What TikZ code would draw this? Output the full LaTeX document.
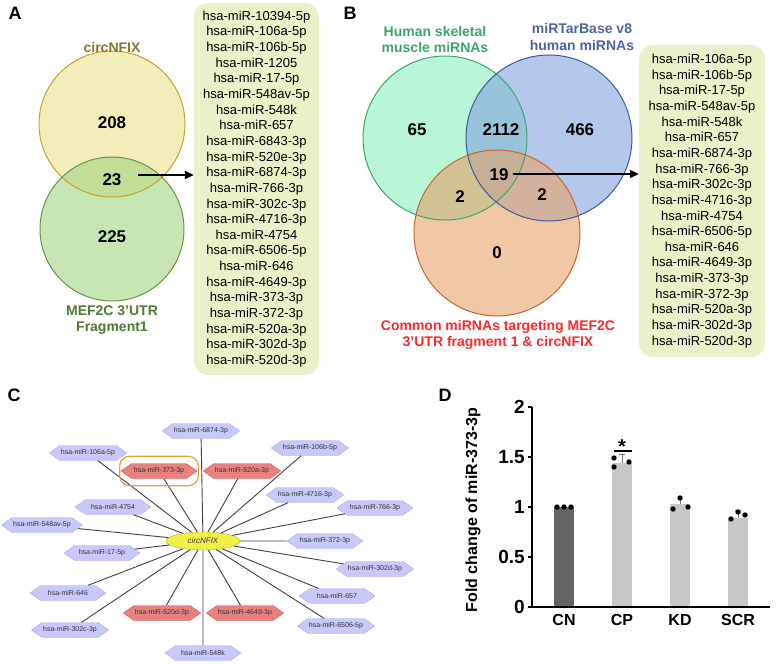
\documentclass[tikz,border=0pt]{standalone}
\usepackage{fontspec}
\setmainfont{Liberation Sans}
\usetikzlibrary{arrows.meta,shapes.symbols,shapes.geometric,fit}

\definecolor{nfixFill}{RGB}{235,227,138}
\definecolor{nfixLine}{RGB}{200,160,50}
\definecolor{nfixText}{RGB}{140,115,40}
\definecolor{mefFill}{RGB}{163,213,130}
\definecolor{mefLine}{RGB}{100,150,70}
\definecolor{mefText}{RGB}{80,120,50}
\definecolor{musFill}{RGB}{138,238,188}
\definecolor{musLine}{RGB}{60,165,110}
\definecolor{tarFill}{RGB}{130,163,222}
\definecolor{tarLine}{RGB}{60,90,160}
\definecolor{tarText}{RGB}{75,100,165}
\definecolor{comFill}{RGB}{230,163,105}
\definecolor{comLine}{RGB}{200,100,45}
\definecolor{comText}{RGB}{255,40,40}
\definecolor{listBg}{RGB}{235,240,200}
\definecolor{hexBlue}{RGB}{200,200,250}
\definecolor{hexBlueLine}{RGB}{170,170,240}
\definecolor{hexRed}{RGB}{232,128,128}
\definecolor{hexRedLine}{RGB}{210,90,90}
\definecolor{hubFill}{RGB}{240,240,70}
\definecolor{hubLine}{RGB}{170,170,60}
\definecolor{hiOrange}{RGB}{232,160,48}
\definecolor{barDark}{RGB}{100,100,100}
\definecolor{barLight}{RGB}{200,200,200}

\tikzset{
  panel/.style={font=\fontsize{18}{18}\selectfont\bfseries},
  num/.style={font=\fontsize{17}{17}\selectfont\bfseries},
  vtitle/.style={align=center, font=\fontsize{14}{16.5}\selectfont\bfseries},
  mirlist/.style={fill=listBg, rounded corners=14pt, align=center, inner sep=0pt,
    font=\fontsize{13}{15.65}\selectfont},
  mirblue/.style={signal, signal to=east and west, signal pointer angle=70,
    fill=hexBlue, draw=hexBlueLine, minimum width=76pt, minimum height=15pt,
    inner sep=1pt, text=black!80, font=\fontsize{7}{7}\selectfont},
  mirred/.style={mirblue, fill=hexRed, draw=hexRedLine},
  link/.style={draw=black!75, line width=0.9pt},
  tick/.style={font=\fontsize{19}{19}\selectfont\bfseries, anchor=east, inner sep=1pt},
  pointer/.style={-{Triangle[length=9pt,width=8pt]}, line width=1.8pt},
}

\begin{document}
\begin{tikzpicture}[x=1pt, y=-1pt]
  \useasboundingbox (0,0) rectangle (777,666);

  \node[panel] (labA) at (15,13) {A};
  \coordinate (cNfix) at (112,124);
  \coordinate (cMef) at (112,229);
  \fill[nfixFill, fill opacity=.6] (cNfix) circle[radius=73pt];
  \fill[mefFill, fill opacity=.6] (cMef) circle[radius=72pt];
  \draw[nfixLine, line width=1pt] (cNfix) circle[radius=73pt];
  \draw[mefLine, line width=1pt] (cMef) circle[radius=72pt];
  \node[vtitle, text=nfixText] (tNfix) at (112,47) {circNFIX};
  \node[vtitle, text=mefText] (tMef) at (112,320) {MEF2C 3’UTR\\Fragment1};
  \node[num] (n208) at (112,123) {208};
  \node[num] (n23) at (112,180) {23};
  \node[num] (n225) at (112,237) {225};
  \node[mirlist, minimum width=125pt, minimum height=372pt] (listA) at (256.5,189)
    {hsa-miR-10394-5p\\hsa-miR-106a-5p\\hsa-miR-106b-5p\\hsa-miR-1205\\hsa-miR-17-5p\\
     hsa-miR-548av-5p\\hsa-miR-548k\\hsa-miR-657\\hsa-miR-6843-3p\\hsa-miR-520e-3p\\
     hsa-miR-6874-3p\\hsa-miR-766-3p\\hsa-miR-302c-3p\\hsa-miR-4716-3p\\hsa-miR-4754\\
     hsa-miR-6506-5p\\hsa-miR-646\\hsa-miR-4649-3p\\hsa-miR-373-3p\\hsa-miR-372-3p\\
     hsa-miR-520a-3p\\hsa-miR-302d-3p\\hsa-miR-520d-3p};
  \coordinate (arrA) at ([shift={(13pt,5pt)}]n23.east);
  \draw[pointer] (arrA) -- (arrA -| listA.west);

  \node[panel] (labB) at (350,13) {B};
  \coordinate (cMus) at (445,138);
  \coordinate (cTar) at (549,138);
  \coordinate (cCom) at (497,233);
  \fill[musFill, fill opacity=.6] (cMus) circle[radius=82pt];
  \fill[tarFill, fill opacity=.6] (cTar) circle[radius=83pt];
  \fill[comFill, fill opacity=.6] (cCom) circle[radius=83pt];
  \draw[musLine, line width=1pt] (cMus) circle[radius=82pt];
  \draw[tarLine, line width=1pt] (cTar) circle[radius=83pt];
  \draw[comLine, line width=1pt] (cCom) circle[radius=83pt];
  \node[vtitle, text=musLine] (tMus) at (435,39.5) {Human skeletal\\muscle miRNAs};
  \node[vtitle, text=tarText] (tTar) at (582,37) {miRTarBase v8\\human miRNAs};
  \node[vtitle, text=comText] (tCom) at (498,335) {Common miRNAs targeting MEF2C\\3’UTR fragment 1 \& circNFIX};
  \node[num] (n65) at (417,130) {65};
  \node[num] (n2112) at (501,130) {2112};
  \node[num] (n466) at (580,130) {466};
  \node[num] (n19) at (499,175) {19};
  \node[num] (n2a) at (460,197) {2};
  \node[num] (n2b) at (542,195) {2};
  \node[num] (n0) at (497,253) {0};
  \node[mirlist, minimum width=126pt, minimum height=312pt] (listB) at (702,201)
    {hsa-miR-106a-5p\\hsa-miR-106b-5p\\hsa-miR-17-5p\\hsa-miR-548av-5p\\hsa-miR-548k\\
     hsa-miR-657\\hsa-miR-6874-3p\\hsa-miR-766-3p\\hsa-miR-302c-3p\\hsa-miR-4716-3p\\
     hsa-miR-4754\\hsa-miR-6506-5p\\hsa-miR-646\\hsa-miR-4649-3p\\hsa-miR-373-3p\\
     hsa-miR-372-3p\\hsa-miR-520a-3p\\hsa-miR-302d-3p\\hsa-miR-520d-3p};
  \coordinate (arrB) at ([shift={(1pt,1pt)}]n19.east);
  \draw[pointer] (arrB) -- (arrB -| listB.west);

  \node[panel] (labC) at (14,395) {C};
  \foreach \id/\px/\py/\st in {6874-3p/201/431/mirblue, 106a-5p/88/453/mirblue,
      106b-5p/310/448/mirblue, 373-3p/159/471/mirred, 520a-3p/242/471/mirred,
      4716-3p/305/495/mirblue, 766-3p/375/508/mirblue, 4754/113/507/mirblue,
      548av-5p/42/525/mirblue, 372-3p/325/541/mirblue, 17-5p/102/553/mirblue,
      302d-3p/375/569/mirblue, 646/68/593/mirblue, 657/337/596/mirblue,
      520d-3p/162/613/mirred, 4649-3p/245/613/mirred, 302c-3p/70/630/mirblue,
      6506-5p/336/626/mirblue, 548k/203/653/mirblue}
    \node[\st] (m\id) at (\px,\py) {hsa-miR-\id};
  \node[ellipse, fill=hubFill, draw=hubLine, minimum width=74pt, minimum height=18pt,
    inner sep=0pt, font=\fontsize{8}{8}\selectfont\itshape, text=black!75] (hub) at (203,541) {circNFIX};
  \foreach \id in {6874-3p, 106a-5p, 106b-5p, 373-3p, 520a-3p, 4716-3p, 766-3p, 4754,
      548av-5p, 372-3p, 17-5p, 302d-3p, 646, 657, 520d-3p, 4649-3p, 302c-3p, 6506-5p, 548k}
    \draw[link] (hub) -- (m\id);
  \node[draw=hiOrange, line width=1.2pt, rounded corners=10pt, fit=(m373-3p),
    inner xsep=1pt, inner ysep=7pt] (hiBox) {};

  \node[panel] (labD) at (445,395) {D};
  \begin{scope}[shift={(532,607)}, y=100pt]
    \foreach \nm/\bx/\bv/\bc in {CN/32/1.0/barDark, CP/90/1.44/barLight,
        KD/148/1.03/barLight, SCR/206/0.89/barLight} {
      \fill[\bc] (\bx-10,0) rectangle (\bx+10,\bv);
      \node[font=\fontsize{16}{16}\selectfont\bfseries] (x\nm) at (\bx,-0.13) {\nm};
    }
    \draw[black!55, line width=.7pt] (90,1.44) -- (90,1.53) (87,1.53) -- (93,1.53)
      (148,1.03) -- (148,1.07) (206,0.89) -- (206,0.97) (203,0.97) -- (209,0.97);
    \foreach \dx/\dv in {25/1.0, 32/1.0, 39/1.0, 82/1.49, 82/1.40, 97/1.45,
        141/0.98, 148/1.09, 156/1.00, 199/0.88, 206/0.95, 213/0.92}
      \fill (\dx,\dv) circle[radius=2.7pt];
    \draw[line width=1.3pt] (0,2) -- (0,0) -- (238,0);
    \foreach \v [count=\i] in {0,0.5,1,1.5,2} {
      \draw[line width=1.3pt] (-4,\v) -- (0,\v);
      \node[tick] (tk\i) at (-6,\v) {\v};
    }
    \draw[line width=1.3pt] (82,1.56) -- (100,1.56);
    \node[font=\fontsize{20}{20}\selectfont\bfseries] (star) at (90,1.60) {*};
    \node[rotate=90, font=\fontsize{16}{16}\selectfont\bfseries] (ylab) at (-59,0.97) {Fold change of miR-373-3p};
  \end{scope}
\end{tikzpicture}
\end{document}
